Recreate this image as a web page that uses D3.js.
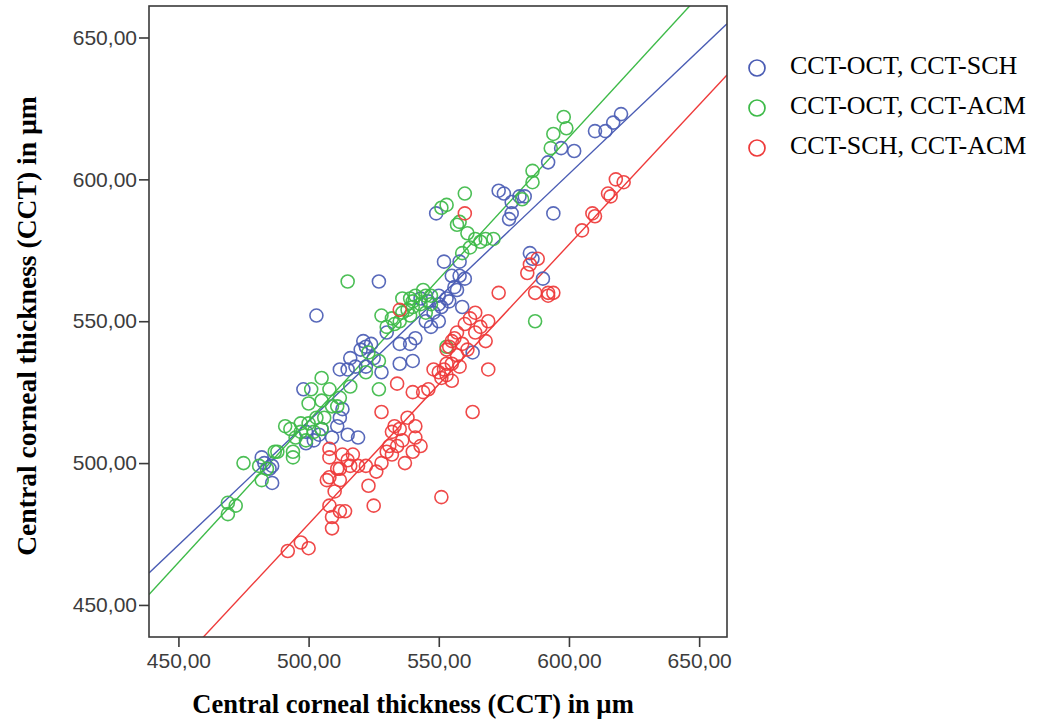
<!DOCTYPE html>
<html>
<head>
<meta charset="utf-8">
<script src="https://cdn.jsdelivr.net/npm/d3@7"></script>
<style>
  html, body { margin: 0; padding: 0; background: #ffffff; }
  svg { display: block; }
</style>
</head>
<body>
<svg id="chart" width="1045" height="721"></svg>
<script>
// Pairwise CCT measurements (µm): [x, y]
const octSch = [
  [620,623],[617,620],[614,617],[610,617],[602,610],[597,611],[592,606],[594,588],
  [573,596],[575,595],[581,594],[583,594],[578,592],[578,588],[577,586],[585,574],
  [586,572],[590,565],[558,566],[559,555],[563,539],[549,588],[552,571],[558,571],
  [555,566],[560,565],[557,561],[550,559],[551,555],[550,556],[550,550],[545,550],
  [543,558],[527,564],[503,552],[521,543],[524,542],[516,537],[515,533],[512,533],
  [518,534],[522,534],[528,532],[535,535],[540,536],[539,542],[541,544],[535,542],
  [530,546],[522,541],[498,526],[499,511],[504,510],[511,513],[512,516],[513,519],
  [519,509],[482,502],[483,500],[486,499],[485,498],[486,493],[499,507],[502,508],
  [546,557],[548,553],[553,558],[556,562],[554,557],[547,548],[505,512],[509,509],
  [515,510],[520,540],[525,537]
];
const octAcm = [
  [598,622],[599,618],[594,616],[593,611],[586,603],[586,599],[582,593],[560,595],
  [553,591],[551,590],[558,585],[561,581],[559,574],[562,576],[564,579],[566,578],
  [568,579],[571,579],[557,584],[587,550],[515,564],[553,541],[528,552],[532,551],
  [540,555],[545,553],[547,556],[536,558],[539,558],[541,559],[545,559],[547,559],
  [535,550],[539,552],[533,549],[523,539],[527,536],[522,532],[527,526],[505,530],
  [501,526],[508,526],[512,523],[511,520],[505,522],[500,521],[516,527],[503,516],
  [500,514],[502,511],[493,512],[491,513],[495,509],[494,504],[494,502],[487,504],
  [475,500],[481,499],[484,498],[482,494],[499,508],[497,514],[505,512],[488,504],
  [469,486],[472,485],[469,482],[540,557],[543,556],[538,554],[544,561],[536,553],
  [506,516],[497,511],[509,520],[530,548]
];
const schAcm = [
  [618,600],[621,599],[615,595],[616,594],[609,588],[610,587],[605,582],[588,572],
  [584,567],[585,570],[587,560],[592,560],[594,560],[592,559],[573,560],[564,553],
  [569,550],[560,549],[564,546],[568,543],[560,588],[535,554],[555,543],[554,541],
  [557,546],[559,542],[555,535],[558,534],[555,529],[552,533],[553,531],[550,532],
  [569,533],[563,518],[551,488],[534,528],[540,525],[544,525],[546,526],[528,518],
  [533,513],[532,511],[535,512],[538,516],[541,513],[541,509],[543,506],[531,506],
  [534,506],[532,503],[537,500],[528,500],[522,499],[517,503],[513,503],[508,505],
  [516,499],[511,498],[507,494],[512,494],[523,492],[525,485],[508,485],[512,483],
  [514,483],[509,481],[509,477],[492,469],[497,472],[500,470],[548,533],[553,535],
  [553,540],[540,504],[519,499],[508,502],[512,498],[508,495],[562,551],[556,544],
  [561,540],[557,538],[551,530],[566,548],[530,504],[536,508],[510,490],[515,501],
  [526,497]
];

// Linear fit lines: intercept and slope per series
const fitIntercepts = [78.7, 15.4, -14.0];
const fitSlopes = [0.872, 0.999, 0.985];

const seriesNames = ["CCT-OCT, CCT-SCH", "CCT-OCT, CCT-ACM", "CCT-SCH, CCT-ACM"];
const seriesColors = ["#4a5cb4", "#3dba48", "#ee3a3a"];
const tickValues = [450, 500, 550, 600, 650];
const axisTitle = "Central corneal thickness (CCT) in µm";

const allSeries = [octSch, octAcm, schAcm];

const svg = d3.select("#chart");
const plot = { left: 149, right: 727, top: 6, bottom: 637 };

const x = d3.scaleLinear().domain([438.7, 660.7]).range([plot.left, plot.right]);
const y = d3.scaleLinear().domain([438.7, 661.1]).range([plot.bottom, plot.top]);

const fmt = v => d3.format(".2f")(v).replace(".", ",");

// Clip region for the plot area
svg.append("defs").append("clipPath").attr("id", "plotClip")
  .append("rect")
  .attr("x", plot.left).attr("y", plot.top)
  .attr("width", plot.right - plot.left).attr("height", plot.bottom - plot.top);

// Fit lines
const lines = svg.append("g").attr("clip-path", "url(#plotClip)");
const [x0, x1] = x.domain();
allSeries.forEach((s, i) => {
  const f = v => fitIntercepts[i] + fitSlopes[i] * v;
  lines.append("line")
    .attr("x1", x(x0)).attr("y1", y(f(x0)))
    .attr("x2", x(x1)).attr("y2", y(f(x1)))
    .attr("stroke", seriesColors[i])
    .attr("stroke-width", 1.4);
});

// Scatter points
const pts = svg.append("g").attr("clip-path", "url(#plotClip)");
allSeries.forEach((s, i) => {
  pts.selectAll(null).data(s).enter().append("circle")
    .attr("cx", d => x(d[0]))
    .attr("cy", d => y(d[1]))
    .attr("r", 6.5)
    .attr("fill", "none")
    .attr("stroke", seriesColors[i])
    .attr("stroke-width", 1.6)
    .attr("stroke-opacity", 0.92);
});

// Axes
const xAxis = d3.axisBottom(x).tickValues(tickValues).tickFormat(fmt).tickSize(10).tickPadding(6);
const yAxis = d3.axisLeft(y).tickValues(tickValues).tickFormat(fmt).tickSize(10).tickPadding(2);

const gx = svg.append("g").attr("transform", `translate(0,${plot.bottom})`).call(xAxis);
const gy = svg.append("g").attr("transform", `translate(${plot.left},0)`).call(yAxis);
[gx, gy].forEach(g => {
  g.select(".domain").remove();
  g.selectAll(".tick line").attr("stroke", "#3a3a3a").attr("stroke-width", 1.6);
  g.selectAll(".tick text")
    .attr("fill", "#3c3c3c")
    .style("font-family", "'Liberation Sans', Arial, sans-serif")
    .style("font-size", "21px");
});

// Plot frame
svg.append("rect")
  .attr("x", plot.left).attr("y", plot.top)
  .attr("width", plot.right - plot.left).attr("height", plot.bottom - plot.top)
  .attr("fill", "none").attr("stroke", "#3a3a3a").attr("stroke-width", 1.6);

// Axis titles
svg.append("text")
  .attr("x", 413).attr("y", 713)
  .attr("text-anchor", "middle")
  .style("font-family", "'Liberation Serif', 'Times New Roman', serif")
  .style("font-weight", "bold").style("font-size", "26.5px")
  .attr("fill", "#000")
  .text(axisTitle);

svg.append("text")
  .attr("transform", "translate(36,326) rotate(-90)")
  .attr("text-anchor", "middle")
  .style("font-family", "'Liberation Serif', 'Times New Roman', serif")
  .style("font-weight", "bold").style("font-size", "27.6px")
  .attr("fill", "#000")
  .text(axisTitle);

// Legend
const legend = svg.append("g");
const legendY = [68, 108, 148];
seriesNames.forEach((name, i) => {
  legend.append("circle")
    .attr("cx", 757).attr("cy", legendY[i]).attr("r", 8)
    .attr("fill", "none").attr("stroke", seriesColors[i]).attr("stroke-width", 1.7);
  legend.append("text")
    .attr("x", 790).attr("y", legendY[i] + 6)
    .style("font-family", "'Liberation Serif', 'Times New Roman', serif")
    .style("font-size", "26px")
    .attr("fill", "#000")
    .text(name);
});
</script>
</body>
</html>
